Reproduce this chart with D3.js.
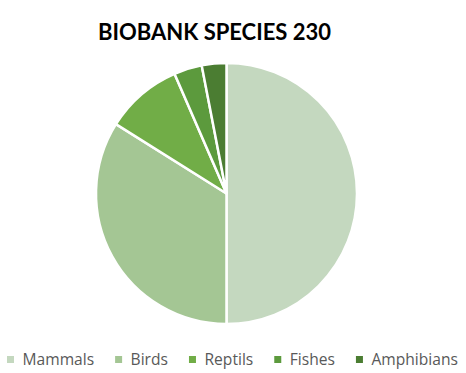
<!DOCTYPE html>
<html>
<head>
<meta charset="utf-8">
<script src="https://cdn.jsdelivr.net/npm/d3@7"></script>
<style>
  body { margin: 0; background: #fff; }
</style>
</head>
<body>
<div id="chart"></div>
<script>
// data
const species = ["Mammals", "Birds", "Reptils", "Fishes", "Amphibians"];
const counts = [115, 78, 22, 8, 7];
const sliceColors = ["#c4d8bf", "#a4c694", "#71ad47", "#5c9a3d", "#4b7d32"];
const chartTitle = "BIOBANK SPECIES 230";

const width = 466,
      height = 373;

const svg = d3.select("#chart")
  .append("svg")
    .attr("width", width)
    .attr("height", height);

const color = d3.scaleOrdinal()
  .domain(species)
  .range(sliceColors);

// title
svg.append("text")
    .attr("x", 214.5)
    .attr("y", 40)
    .attr("text-anchor", "middle")
    .style("font-family", "Lato, 'Open Sans', sans-serif")
    .style("font-weight", "bold")
    .style("font-size", "22px")
    .style("fill", "#000")
  .text(chartTitle);

// pie
const pie = d3.pie().sort(null).value(d => d.value);
const arc = d3.arc().innerRadius(0).outerRadius(130.5);

const rows = species.map((s, i) => ({name: s, value: counts[i]}));

const g = svg.append("g")
  .attr("transform", "translate(226.5,193.5)");

g.selectAll("path")
  .data(pie(rows))
  .join("path")
    .attr("d", arc)
    .attr("fill", d => color(d.data.name))
    .attr("stroke", "#fff")
    .attr("stroke-width", 2.5)
    .attr("stroke-linejoin", "round");

// legend
const legend = svg.append("g").attr("transform", "translate(7,365)");
let xPos = 0;
rows.forEach(d => {
  const item = legend.append("g").attr("transform", `translate(${xPos},0)`);
  item.append("rect")
    .attr("x", 0)
    .attr("y", -9)
    .attr("width", 7)
    .attr("height", 7)
    .attr("fill", color(d.name));
  const t = item.append("text")
    .attr("x", 15.5)
    .attr("y", 0)
    .style("font-family", "'Open Sans', sans-serif")
    .style("font-size", "15.6px")
    .style("fill", "#595959")
    .text(d.name);
  xPos += 15.5 + t.node().getComputedTextLength() + 21;
});
</script>
</body>
</html>
